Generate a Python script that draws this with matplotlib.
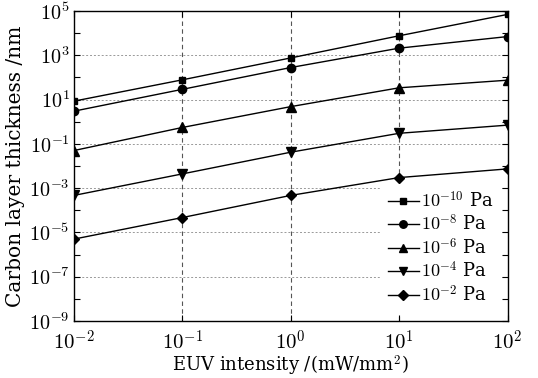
import matplotlib
matplotlib.use("Agg")
import matplotlib.pyplot as plt
import numpy as np
from matplotlib.ticker import FixedLocator

plt.rcParams['font.family'] = ['DejaVu Serif']
plt.rcParams['mathtext.fontset'] = 'cm'

intensity = [1e-2, 1e-1, 1e0, 1e1, 1e2]
labels = [r'$10^{-10}$ Pa', r'$10^{-8}$ Pa', r'$10^{-6}$ Pa', r'$10^{-4}$ Pa', r'$10^{-2}$ Pa']
markers = ['s', 'o', '^', 'v', 'D']
msizes = [5.0, 6.0, 6.5, 6.5, 5.5]
thick_1e10 = [8.5, 78, 760, 7600, 7.0e4]
thick_1e8 = [3.0, 29, 280, 2100, 7000]
thick_1e6 = [0.05, 0.55, 4.8, 34, 75]
thick_1e4 = [4.7e-4, 4.4e-3, 0.042, 0.30, 0.70]
thick_1e2 = [5.0e-6, 4.7e-5, 4.7e-4, 3.0e-3, 7.4e-3]
series = [thick_1e10, thick_1e8, thick_1e6, thick_1e4, thick_1e2]

fig = plt.figure(figsize=(5.38, 3.78), dpi=100)
ax = fig.add_axes([74/538, 1 - 321/378, (507.5 - 74)/538, (321 - 11)/378])

for ys, m, s, lab in zip(series, markers, msizes, labels):
    ax.plot(intensity, ys, color='black', lw=1.0, marker=m, ms=s,
            label=lab, clip_on=True, zorder=3)

ax.set_xscale('log')
ax.set_yscale('log')
ax.set_xlim(1e-2, 1e2)
ax.set_ylim(1e-9, 1e5)

ax.set_xticks([1e-2, 1e-1, 1e0, 1e1, 1e2])
ax.set_xticklabels([r'$10^{-2}$', r'$10^{-1}$', r'$10^{0}$', r'$10^{1}$', r'$10^{2}$'])
ax.xaxis.set_minor_locator(FixedLocator([]))
ax.set_yticks([10.0**k for k in range(-9, 6)])
ax.set_yticklabels([r'$10^{%d}$' % k if k % 2 != 0 else '' for k in range(-9, 6)])
ax.yaxis.set_minor_locator(FixedLocator([]))

ax.tick_params(which='both', direction='in', top=True, right=True, length=4, width=0.8,
               labelsize=15)
ax.tick_params(axis='x', pad=6.0)
ax.tick_params(axis='y', pad=3, labelsize=14.5)

for v in [1e-1, 1e0, 1e1]:
    ax.axvline(v, color='#555555', ls=(0, (4, 3)), lw=0.8, zorder=1)
for k in range(-7, 4, 2):
    ax.axhline(10.0**k, color='#999999', ls=(0, (2, 2)), lw=0.7, zorder=1)

for sp in ax.spines.values():
    sp.set_linewidth(1.0)
    sp.set_zorder(6)

ax.set_xlabel('EUV intensity /(mW/mm$^2$)', fontsize=13, labelpad=0)
ax.set_ylabel('Carbon layer thickness /nm', fontsize=14.5, labelpad=3)

leg = ax.legend(loc='lower right', bbox_to_anchor=(1.008, -0.005), frameon=True, fancybox=False,
                edgecolor='none', facecolor='white', framealpha=1.0, fontsize=13,
                handlelength=1.7, handletextpad=0.15, labelspacing=0.17, borderpad=0.45,
                markerscale=0.9)
leg.set_zorder(2)

fig.savefig('out.png', dpi=100)
